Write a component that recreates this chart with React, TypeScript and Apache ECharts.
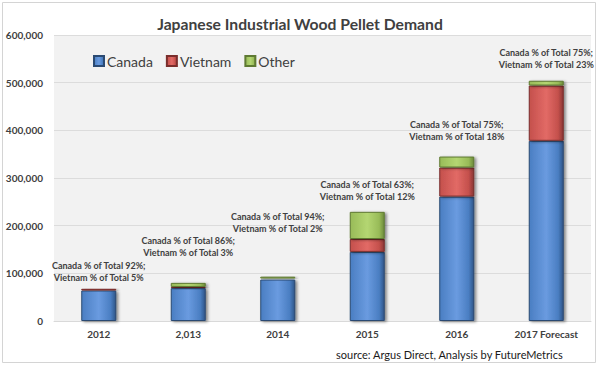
import React, { useEffect, useRef } from "react";
import * as echarts from "echarts";

const categories = ["2012", "2,013", "2014", "2015", "2016", "2017 Forecast"];
const canada = [64000, 69000, 87000, 145000, 261000, 378000];
const vietnam = [3500, 2400, 2000, 27000, 61000, 116000];
const other = [2000, 8600, 4000, 57000, 23000, 10000];
const canadaPct = [92, 86, 94, 63, 75, 75];
const vietnamPct = [5, 3, 2, 12, 18, 23];
const labelGaps = [4, 24, 42, 9, 14, 10];
const yTicks = [0, 100000, 200000, 300000, 400000, 500000, 600000];

const FONT = "Lato, 'Open Sans', sans-serif";

function grad(light: string, mid: string, dark: string) {
  return new echarts.graphic.LinearGradient(0, 0, 1, 0, [
    { offset: 0, color: mid },
    { offset: 0.5, color: light },
    { offset: 0.85, color: mid },
    { offset: 1, color: dark },
  ]);
}

export default function App() {
  const ref = useRef<HTMLDivElement>(null);
  useEffect(() => {
    if (!ref.current) return;
    const chart = echarts.init(ref.current, null, { renderer: "svg" });
    const barStyle = (light: string, mid: string, dark: string, border: string) => ({
      color: grad(light, mid, dark),
      borderColor: border,
      borderWidth: 1,
      shadowBlur: 3,
      shadowOffsetX: 2,
      shadowOffsetY: 1,
      shadowColor: "rgba(0,0,0,0.45)",
    });
    chart.setOption({
      animation: false,
      backgroundColor: "#ffffff",
      textStyle: { fontFamily: FONT },
      title: {
        text: "Japanese Industrial Wood Pellet Demand",
        left: "center",
        top: 11,
        textStyle: { fontFamily: FONT, fontSize: 15.7, fontWeight: "bold", color: "#404040" },
      },
      legend: {
        left: 88,
        top: 49,
        itemWidth: 10,
        itemHeight: 10,
        itemGap: 13,
        icon: "rect",
        textStyle: { fontFamily: FONT, fontSize: 14, color: "#404040", padding: [0, 0, 0, -2] },
        data: ["Canada", "Vietnam", "Other"],
      },
      grid: {
        left: 54,
        right: 9,
        top: 35,
        bottom: 45,
        show: true,
        backgroundColor: "#f2f2f2",
        borderWidth: 0,
      },
      xAxis: {
        type: "category",
        data: categories,
        axisTick: { show: false },
        axisLine: { lineStyle: { color: "#d9d9d9" } },
        axisLabel: {
          margin: 8,
          fontFamily: FONT,
          fontSize: 10,
          fontWeight: "bold",
          color: "#404040",
        },
      },
      yAxis: {
        type: "value",
        min: yTicks[0],
        max: yTicks[yTicks.length - 1],
        interval: 100000,
        axisLine: { show: false },
        axisTick: { show: false },
        splitLine: { lineStyle: { color: "#dcdcdc" } },
        axisLabel: {
          margin: 11,
          fontFamily: FONT,
          fontSize: 10,
          fontWeight: "bold",
          color: "#404040",
          formatter: (v: number) => v.toLocaleString("en-US"),
        },
      },
      series: [
        {
          name: "Canada",
          type: "bar",
          stack: "total",
          barWidth: 35,
          data: canada,
          itemStyle: barStyle("#6a9be0", "#4a7ec2", "#2f5688", "#2b4a72"),
        },
        {
          name: "Vietnam",
          type: "bar",
          stack: "total",
          data: vietnam,
          itemStyle: barStyle("#e26a66", "#c4504c", "#8a3634", "#7a2e2c"),
        },
        {
          name: "Other",
          type: "bar",
          stack: "total",
          data: other.map((v, i) => ({
            value: v,
            label: { distance: labelGaps[i] },
          })),
          itemStyle: barStyle("#b4d672", "#98bb58", "#6c8a3a", "#5f7a33"),
          label: {
            show: true,
            position: "top",
            fontFamily: FONT,
            fontSize: 9,
            fontWeight: "bold",
            color: "#404040",
            lineHeight: 12,
            align: "center",
            formatter: (p: any) =>
              `Canada % of Total ${canadaPct[p.dataIndex]}%;\nVietnam % of Total ${vietnamPct[p.dataIndex]}%`,
          },
        },
      ],
      graphic: [
        {
          type: "rect",
          shape: { x: 2.5, y: 2.5, width: 593, height: 360 },
          style: { fill: "none", stroke: "#d4d4d4", lineWidth: 1 },
          silent: true,
          z: -1,
        },
        {
          type: "text",
          left: 336,
          top: 349,
          style: {
            text: "source: Argus Direct, Analysis by FutureMetrics",
            fontFamily: FONT,
            fontSize: 11,
            fill: "#1a1a1a",
          },
        },
      ],
    });
    return () => chart.dispose();
  }, []);
  return (
    <div
      ref={ref}
      style={{ position: "fixed", left: 0, top: 0, width: 600, height: 366 }}
    />
  );
}
